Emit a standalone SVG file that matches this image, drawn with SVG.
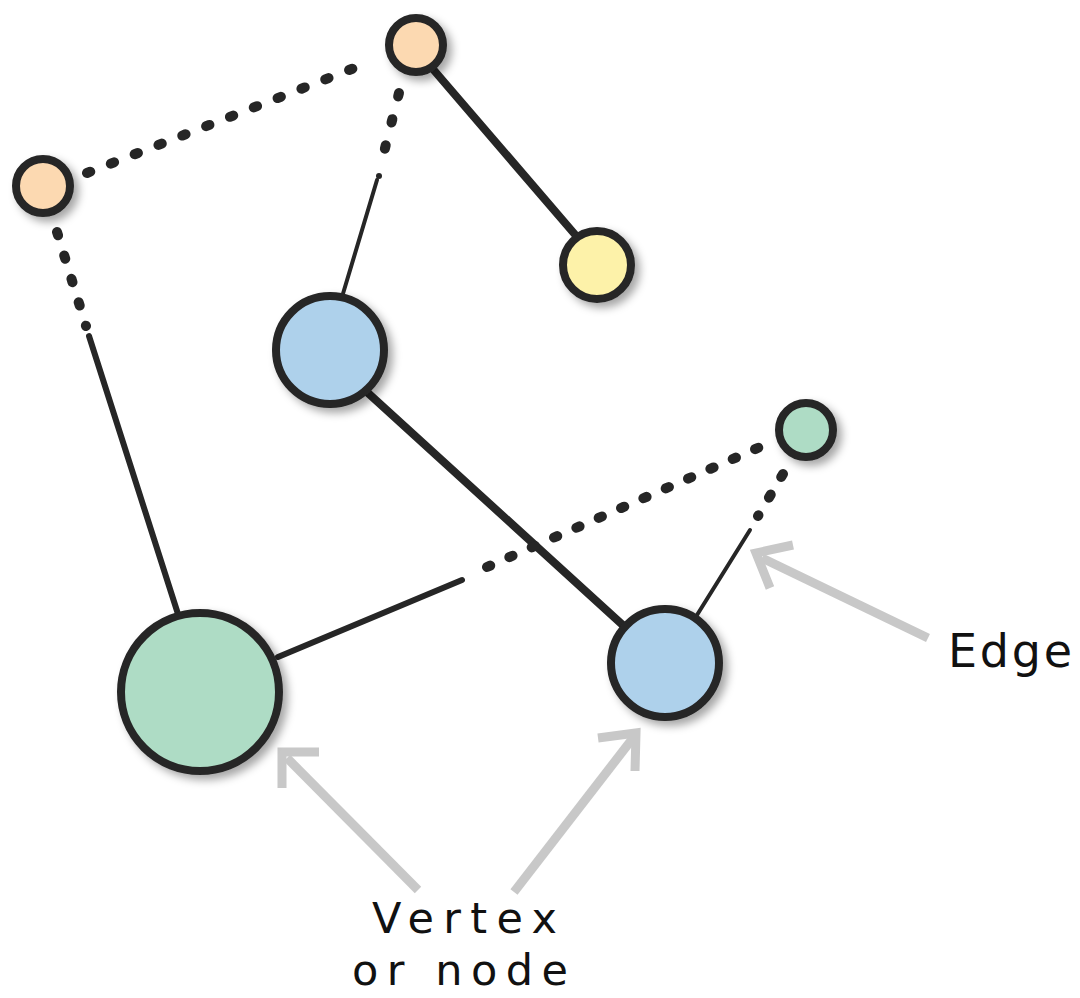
<svg xmlns="http://www.w3.org/2000/svg" width="1080" height="998" viewBox="0 0 1080 998">
<style>
.node{stroke:#262626;stroke-width:8}
.solid{stroke:#262626;stroke-linecap:round;fill:none}
.dots{stroke:#262626;stroke-width:10;stroke-linecap:round;fill:none}
.arrow{stroke:#c8c8c8;fill:none;stroke-linecap:butt;stroke-linejoin:miter}
.lbl{font-family:"DejaVu Sans","Liberation Sans",sans-serif;font-weight:normal;fill:#111}
</style>
<defs>
<filter id="sh" x="-30%" y="-30%" width="170%" height="170%">
<feDropShadow dx="5" dy="5" stdDeviation="4" flood-color="#000" flood-opacity="0.35"/>
</filter>
</defs>
<rect width="1080" height="998" fill="#fff"/>
<g id="connectors">
<g id="e-top-left"><line class="dots" x1="87" y1="173" x2="372" y2="61" stroke-dasharray="3.5 22.1" stroke-dashoffset="0"/></g>
<g id="e-top-yellow"><line class="solid" x1="432" y1="68" x2="578" y2="238" stroke-width="8"/></g>
<g id="e-top-blue1"><line class="dots" x1="399" y1="93" x2="382" y2="160" stroke-dasharray="3.5 23.5"/><line class="dots" x1="379" y1="176" x2="379" y2="176" style="stroke-width:6"/><line class="solid" x1="377" y1="180" x2="342" y2="297" stroke-width="4"/></g>
<g id="e-left-green"><line class="dots" x1="57" y1="232" x2="86" y2="326" stroke-dasharray="3.5 21"/><line class="solid" x1="89" y1="336" x2="178" y2="614" stroke-width="6"/></g>
<g id="e-blue1-blue2"><line class="solid" x1="368" y1="393" x2="626" y2="628" stroke-width="8"/></g>
<g id="e-green-smallgreen"><line class="solid" x1="278" y1="657" x2="462" y2="580" stroke-width="6"/><line class="dots" x1="487" y1="567" x2="760" y2="447" stroke-dasharray="3.5 20.9"/></g>
<g id="e-smallgreen-blue2"><line class="dots" x1="783" y1="474" x2="758" y2="516" stroke-dasharray="3.5 20.5"/><line class="solid" x1="750" y1="530" x2="697" y2="615" stroke-width="4"/></g>
</g>
<g id="arrows">
<g id="arrow-edge"><line class="arrow" x1="928" y1="638" x2="762" y2="558" stroke-width="9"/><polyline class="arrow" points="793,545 756,553 770,588" stroke-width="9"/></g>
<g id="arrow-vertex-1"><line class="arrow" x1="418" y1="890" x2="287" y2="758" stroke-width="9"/><polyline class="arrow" points="319,752 282,752 282,788" stroke-width="9"/></g>
<g id="arrow-vertex-2"><line class="arrow" x1="514" y1="892" x2="633" y2="738" stroke-width="9"/><polyline class="arrow" points="598,738 636,733 635,771" stroke-width="9"/></g>
</g>
<g id="n-orange-top"><circle class="node" cx="416" cy="45" r="27" fill="#fcd9b1" filter="url(#sh)"/></g>
<g id="n-orange-left"><circle class="node" cx="43" cy="186" r="27" fill="#fcd9b1" filter="url(#sh)"/></g>
<g id="n-yellow"><circle class="node" cx="597" cy="265" r="34" fill="#fdf2a9" filter="url(#sh)"/></g>
<g id="n-blue1"><circle class="node" cx="330" cy="350" r="54" fill="#aed1eb" filter="url(#sh)"/></g>
<g id="n-green-small"><circle class="node" cx="806" cy="430" r="27" fill="#aedcc5" filter="url(#sh)"/></g>
<g id="n-green-large"><circle class="node" cx="200" cy="692" r="79" fill="#aedcc5" filter="url(#sh)"/></g>
<g id="n-blue2"><circle class="node" cx="665" cy="663" r="54" fill="#aed1eb" filter="url(#sh)"/></g>
<g id="labels">
<text class="lbl" x="948" y="667" font-size="46" textLength="124" lengthAdjust="spacing">Edge</text>
<text class="lbl" x="372" y="933" font-size="43" textLength="185" lengthAdjust="spacing">Vertex</text>
<text class="lbl" x="352" y="985" font-size="43" textLength="216" lengthAdjust="spacing">or node</text>
</g>
</svg>
